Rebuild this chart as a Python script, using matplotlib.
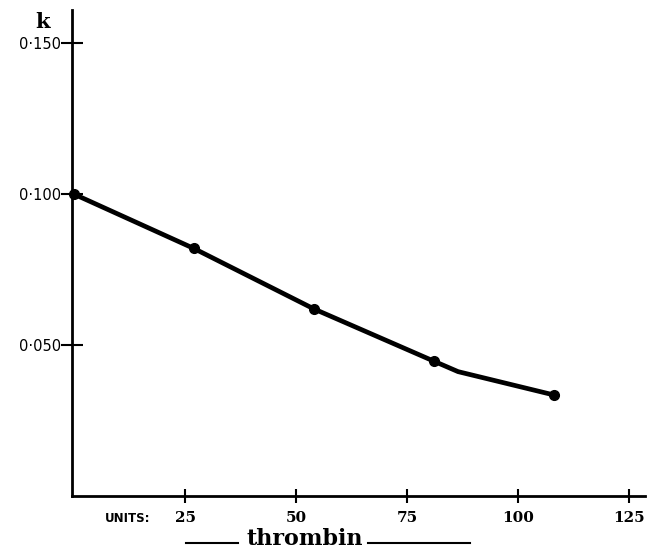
import matplotlib
matplotlib.use("Agg")
import matplotlib.pyplot as plt

# thrombin units vs. rate constant k
units = [0, 27, 54, 81, 108]
k_values = [0.100, 0.082, 0.062, 0.0447, 0.0335]
# hand-drawn curve bends slightly between the last two points
curve_units = [0, 27, 54, 81, 86.5, 108]
curve_k = [0.100, 0.082, 0.062, 0.0447, 0.0412, 0.0335]

x_ticks = [25, 50, 75, 100, 125]
y_ticks = [0.050, 0.100, 0.150]
y_tick_labels = ["0·050", "0·100", "0·150"]

plt.rcParams["font.family"] = ["DejaVu Serif"]

fig = plt.figure(figsize=(6.49, 5.5), dpi=100)
ax = fig.add_axes([72 / 649, 54 / 550, (645 - 72) / 649, (496 - 10) / 550])

ax.plot(curve_units, curve_k, color="black", lw=3.4, solid_capstyle="round",
        solid_joinstyle="round", zorder=3)
ax.plot(units, k_values, "o", color="black", ms=7, zorder=4, clip_on=False)

ax.set_xlim(-0.45, 128.6)
ax.set_ylim(0, 0.161)

for side in ("top", "right"):
    ax.spines[side].set_visible(False)
for side in ("left", "bottom"):
    ax.spines[side].set_linewidth(2)

ax.set_xticks(x_ticks)
ax.set_xticklabels([str(v) for v in x_ticks], fontsize=11, fontweight="bold")
ax.set_yticks(y_ticks)
ax.set_yticklabels(y_tick_labels, fontsize=10.5, family="DejaVu Sans")
ax.tick_params(axis="x", direction="inout", length=10, width=1.5, pad=6)
ax.tick_params(axis="y", direction="inout", length=16, width=1.5, pad=0)

fig.text(42 / 649, 1 - 22 / 550, "k", fontsize=15, fontweight="bold",
         ha="center", va="center")
fig.text(128 / 649, 1 - 518 / 550, "UNITS:", fontsize=8.5, fontweight="bold",
         family="DejaVu Sans", ha="center", va="center")
fig.text(305 / 649, 1 - 539 / 550, "thrombin", fontsize=16, fontweight="bold",
         ha="center", va="center")
fig.add_artist(plt.Line2D([186 / 649, 238 / 649], [1 - 543 / 550] * 2,
                          color="black", lw=1.5))
fig.add_artist(plt.Line2D([368 / 649, 470 / 649], [1 - 543 / 550] * 2,
                          color="black", lw=1.5))

fig.savefig("out.png", dpi=100)
